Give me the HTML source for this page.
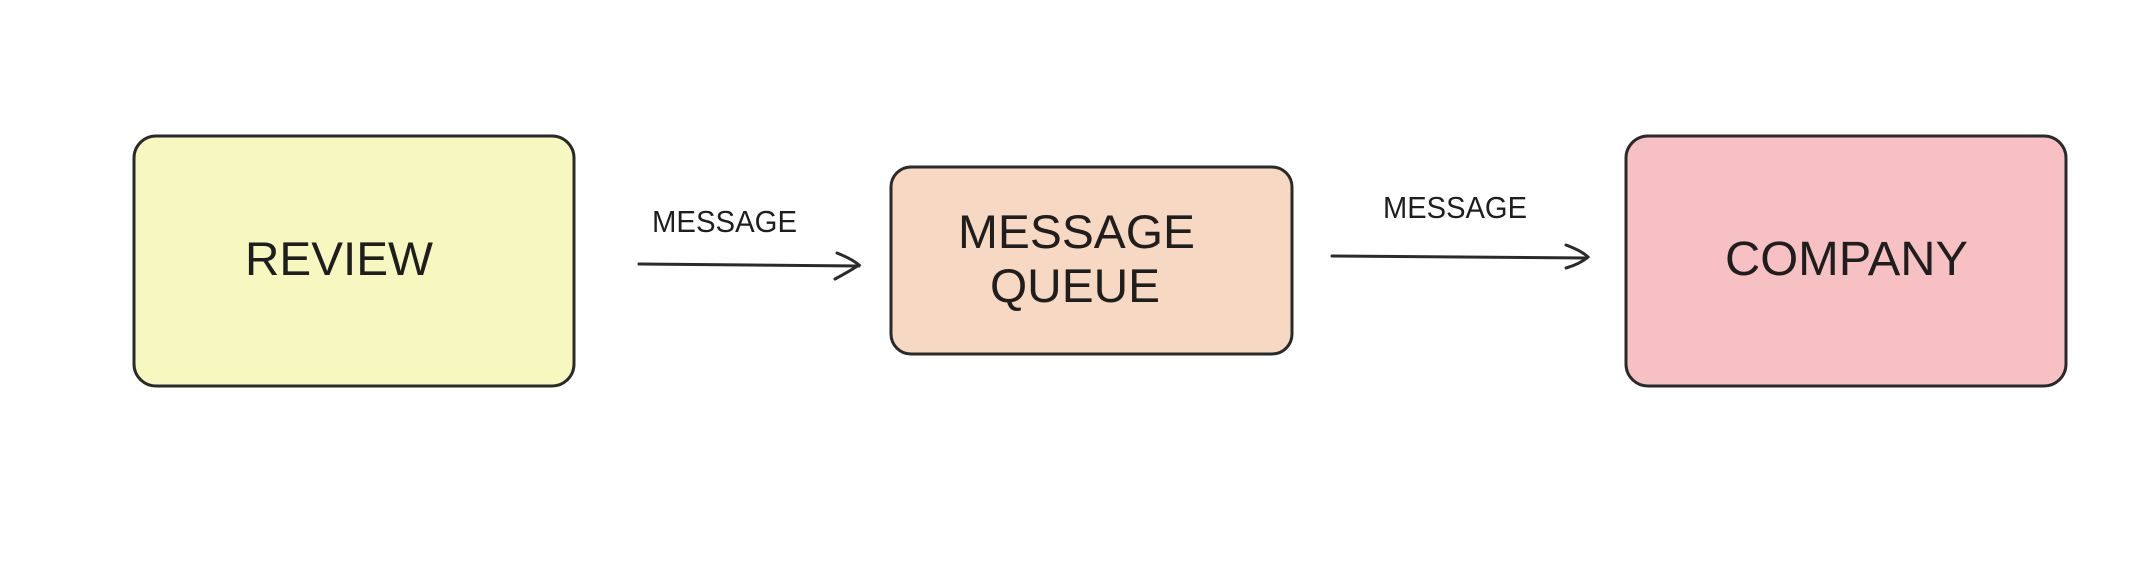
<!DOCTYPE html>
<html><head><meta charset="utf-8"><style>
html,body{margin:0;padding:0;background:#fff;}
svg{display:block;}
text{font-family:"Liberation Sans",sans-serif;fill:#1e1e1e;}
</style></head><body>
<svg width="2155" height="583" viewBox="0 0 2155 583" xmlns="http://www.w3.org/2000/svg">
<rect width="2155" height="583" fill="#fff"/>
<rect x="134" y="136" width="440" height="250" rx="22" fill="#f7f7c0" stroke="#2a2a2a" stroke-width="3"/>
<rect x="891" y="167" width="401" height="187" rx="20" fill="#f7d8c2" stroke="#2a2a2a" stroke-width="3"/>
<rect x="1626" y="136" width="440" height="250" rx="22" fill="#f7c0c2" stroke="#2a2a2a" stroke-width="3"/>
<text x="245" y="275" font-size="47" textLength="188" lengthAdjust="spacingAndGlyphs">REVIEW</text>
<text x="958" y="248" font-size="47" textLength="237" lengthAdjust="spacingAndGlyphs">MESSAGE</text>
<text x="990" y="302" font-size="47" textLength="170" lengthAdjust="spacingAndGlyphs">QUEUE</text>
<text x="1725" y="275" font-size="48" textLength="243" lengthAdjust="spacingAndGlyphs">COMPANY</text>
<text x="652" y="232" font-size="31" textLength="145" lengthAdjust="spacingAndGlyphs">MESSAGE</text>
<text x="1383" y="218" font-size="31" textLength="144" lengthAdjust="spacingAndGlyphs">MESSAGE</text>
<g stroke="#2a2a2a" stroke-width="3" fill="none" stroke-linecap="round">
<path d="M639 264 L859 266"/>
<path d="M837 253 Q852 259 859 265 Q850 271 835 279"/>
<path d="M1332 256 L1587 258"/>
<path d="M1566 245 Q1582 251 1588 257 Q1580 264 1566 268"/>
</g>
</svg>
</body></html>
